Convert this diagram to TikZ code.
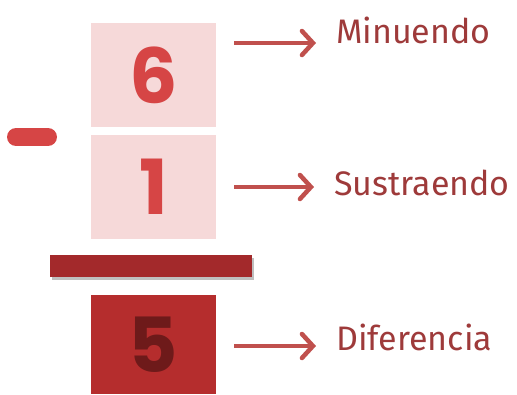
\documentclass[tikz,border=0pt]{standalone}
\usepackage{fontspec}
\setmainfont{Fira Sans}
\newfontfamily\digitfont{Poppins}
\usetikzlibrary{arrows.meta}
\definecolor{palebox}{HTML}{F6D9D9}
\definecolor{digitred}{HTML}{D64545}
\definecolor{barred}{HTML}{A3292B}
\definecolor{darkbox}{HTML}{B52D2D}
\definecolor{darkdigit}{HTML}{6E1A1A}
\definecolor{arrowred}{HTML}{C0504D}
\definecolor{labelred}{HTML}{9E3A3A}
\tikzset{
  numbox/.style={minimum width=125pt,inner sep=0pt,outer sep=0pt},
  digit/.style={inner sep=0pt,font=\digitfont\bfseries\fontsize{76}{76}\selectfont},
  termlabel/.style={anchor=base west,inner sep=0pt,text=labelred,
    font=\fontsize{34}{34}\selectfont},
  termarrow/.style={arrowred,line width=4.5pt,
    -{Straight Barb[length=11pt,width=24pt,line cap=round]},shorten >=20pt}
}

\begin{document}
\begin{tikzpicture}[x=1pt,y=-1pt]
\useasboundingbox (0,0) rectangle (517,394);
\node[numbox,fill=palebox,minimum height=104pt] (six) at (153.5,75) {};
\node[numbox,fill=palebox,minimum height=104pt] (one) at (153.5,187) {};
\node[numbox,fill=darkbox,minimum height=99pt] (five) at (153.5,344.5) {};
\node[digit,text=digitred] (d6) at (six) {6};
\node[digit,text=digitred] (d1) at (one) {1};
\node[digit,text=darkdigit] (d5) at (five) {5};
% minus sign and line
\draw[digitred,line width=18pt,line cap=round] (16,137) -- (48,137);
\fill[black!25] (52,258) rectangle (254,280);
\fill[barred] (50,255) rectangle (252,277);
\node[termlabel] (minu) at (336,43) {Minuendo};
\node[termlabel] (sust) at (334,195) {Sustraendo};
\node[termlabel] (dife) at (336,350) {Diferencia};
\coordinate (m0) at (234,43);
\coordinate (s0) at (234,187);
\coordinate (d0) at (234,346);
\draw[termarrow] (m0) -- (m0 -| minu.west);
\draw[termarrow] (s0) -- (s0 -| sust.west);
\draw[termarrow] (d0) -- (d0 -| dife.west);
\end{tikzpicture}
\end{document}
